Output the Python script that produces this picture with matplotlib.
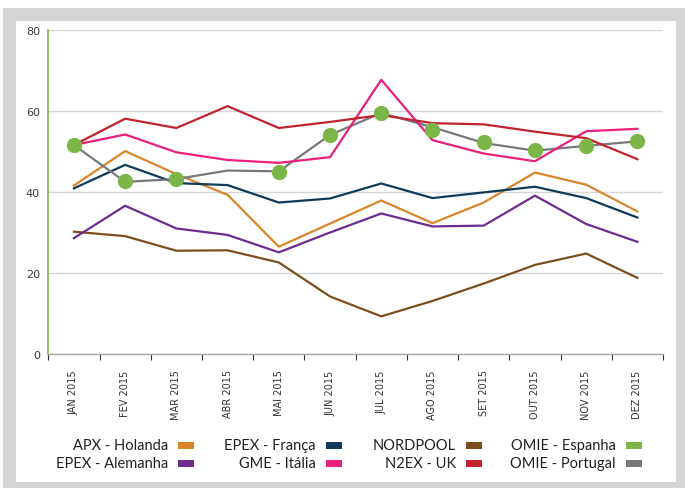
import numpy as np
import matplotlib
matplotlib.use('Agg')
import matplotlib.pyplot as plt
from matplotlib.patches import Rectangle

# -------------------------------------------------------------------------------------------------------------------- #
# DATA

months = ['JAN 2015', 'FEV 2015', 'MAR 2015', 'ABR 2015', 'MAI 2015', 'JUN 2015',
          'JUL 2015', 'AGO 2015', 'SET 2015', 'OUT 2015', 'NOV 2015', 'DEZ 2015']

apx_holanda = [41.6, 50.1, 44.4, 39.3, 26.5, 32.2, 37.9, 32.3, 37.4, 44.8, 41.8, 35.2]
epex_franca = [40.9, 46.7, 42.2, 41.7, 37.4, 38.4, 42.1, 38.5, 39.9, 41.3, 38.5, 33.7]
nordpool = [30.2, 29.1, 25.5, 25.6, 22.6, 14.2, 9.3, 13.1, 17.4, 22.0, 24.8, 18.8]
epex_alemanha = [28.6, 36.6, 31.0, 29.4, 25.1, 30.0, 34.7, 31.5, 31.7, 39.1, 32.1, 27.7]
gme_italia = [51.6, 54.2, 49.8, 47.9, 47.2, 48.6, 67.7, 52.8, 49.5, 47.6, 55.0, 55.6]
n2ex_uk = [51.6, 58.1, 55.8, 61.2, 55.8, 57.3, 59.0, 57.0, 56.7, 54.9, 53.3, 48.1]
omie_portugal = [51.6, 42.5, 43.2, 45.3, 45.1, 54.1, 59.5, 56.0, 52.1, 50.2, 51.4, 52.5]
omie_espanha = [51.6, 42.6, 43.3, np.nan, 45.0, 54.1, 59.5, 55.4, 52.3, 50.4, 51.4, 52.6]

colors = {
    'APX - Holanda': '#d9862b',
    'EPEX - Alemanha': '#6b2d8e',
    'EPEX - França': '#0f3a59',
    'GME - Itália': '#e9207c',
    'NORDPOOL': '#7a4e1f',
    'N2EX - UK': '#c1232f',
    'OMIE - Espanha': '#7ab648',
    'OMIE - Portugal': '#77787b',
}

# -------------------------------------------------------------------------------------------------------------------- #
# PLOT

fig = plt.figure(figsize=(6.85, 4.89), dpi=100)
fig.patch.set_facecolor('white')

# grey frame with white panel
fig.add_artist(Rectangle((3 / 685, 0), 1, 480 / 489, transform=fig.transFigure,
                         facecolor='#d3d4d6', edgecolor='none', zorder=0))
fig.add_artist(Rectangle((16 / 685, 6 / 489), 660 / 685, 461 / 489, transform=fig.transFigure,
                         facecolor='white', edgecolor='none', zorder=0))

ax = fig.add_axes([48.3 / 685, 134 / 489, 614.7 / 685, 324 / 489])
ax.set_facecolor('none')

x = np.arange(len(months))
lw = 1.6
ax.plot(x, apx_holanda, color=colors['APX - Holanda'], lw=lw, zorder=3)
ax.plot(x, epex_franca, color=colors['EPEX - França'], lw=lw, zorder=3)
ax.plot(x, nordpool, color=colors['NORDPOOL'], lw=lw, zorder=3)
ax.plot(x, epex_alemanha, color=colors['EPEX - Alemanha'], lw=lw, zorder=3)
ax.plot(x, omie_portugal, color=colors['OMIE - Portugal'], lw=lw, zorder=3)
ax.plot(x, gme_italia, color=colors['GME - Itália'], lw=lw, zorder=3)
ax.plot(x, n2ex_uk, color=colors['N2EX - UK'], lw=lw, zorder=3)
ax.plot(x, omie_espanha, color=colors['OMIE - Espanha'], lw=0, marker='o', markersize=11,
        markeredgewidth=0, zorder=4)

ax.set_xlim(-0.5, len(months) - 0.5)
ax.set_ylim(0, 80)
ax.set_yticks([0, 20, 40, 60, 80])
ax.yaxis.grid(True, color='#d6d6d6', lw=1)
ax.set_axisbelow(True)

for s in ['top', 'right']:
    ax.spines[s].set_visible(False)
ax.spines['left'].set_color('#7ab648')
ax.spines['left'].set_linewidth(1.2)
ax.spines['bottom'].set_color('#a6a6a6')
ax.spines['bottom'].set_linewidth(1)

ax.tick_params(axis='y', length=0, pad=6, labelsize=8, labelcolor='#3a3a3a')
ax.set_xticks(x)
ax.set_xticklabels(months, rotation=90, fontsize=7, color='#333333')
ax.tick_params(axis='x', which='major', length=0, pad=11)
ax.set_xticks(np.arange(-0.5, len(months)), minor=True)
ax.tick_params(axis='x', which='minor', length=4, color='#333333', width=0.8)

# legend: right aligned labels with swatch after
names = [['APX - Holanda', 'EPEX - Alemanha'], ['EPEX - França', 'GME - Itália'],
         ['NORDPOOL', 'N2EX - UK'], ['OMIE - Espanha', 'OMIE - Portugal']]
text_right = [168, 316, 456, 616]
rows_y = [446, 464]
for col, pair in enumerate(names):
    for row, name in enumerate(pair):
        yf = 1 - rows_y[row] / 489
        fig.text(text_right[col] / 685, yf, name, ha='right', va='center',
                 fontsize=10.5, color='#222222', family=['Lato', 'DejaVu Sans'])
        fig.add_artist(Rectangle(((text_right[col] + 10) / 685, yf - 3.5 / 489), 16 / 685, 7 / 489,
                                 transform=fig.transFigure, facecolor=colors[name], edgecolor='none'))

fig.savefig('out.png', dpi=100)
